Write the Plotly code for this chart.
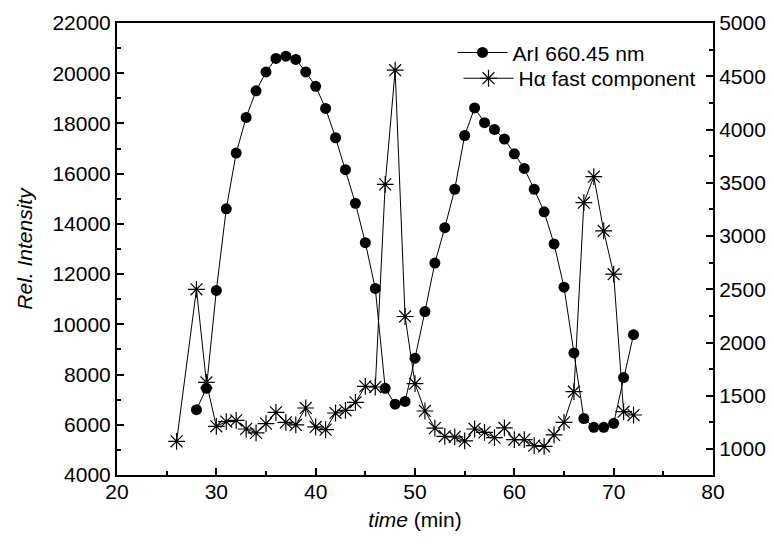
import plotly.graph_objects as go

# --- data ---
ari_time = [28, 29, 30, 31, 32, 33, 34, 35, 36, 37, 38, 39, 40, 41, 42, 43, 44, 45, 46, 47,
            48, 49, 50, 51, 52, 53, 54, 55, 56, 57, 58, 59, 60, 61, 62, 63, 64, 65, 66, 67,
            68, 69, 70, 71, 72]
ari_values = [6600, 7450, 11350, 14600, 16820, 18240, 19300, 20050, 20590, 20680, 20550, 20050,
              19480, 18600, 17430, 16160, 14820, 13250, 11430, 7450, 6820, 6930, 8650, 10510,
              12440, 13850, 15380, 17520, 18620, 18030, 17760, 17380, 16790, 16210, 15380,
              14480, 13200, 11480, 8860, 6250, 5900, 5900, 6060, 7880, 9590]

ha_time = [26, 28, 29, 30, 31, 32, 33, 34, 35, 36, 37, 38, 39, 40, 41, 42, 43, 44, 45, 46,
           47, 48, 49, 50, 51, 52, 53, 54, 55, 56, 57, 58, 59, 60, 61, 62, 63, 64, 65, 66,
           67, 68, 69, 70, 71, 72]
ha_values = [1073, 2500, 1626, 1214, 1258, 1270, 1189, 1152, 1239, 1345, 1251, 1227, 1386,
             1208, 1183, 1339, 1364, 1439, 1589, 1583, 3485, 4557, 2245, 1614, 1358, 1197,
             1120, 1114, 1077, 1189, 1157, 1108, 1199, 1089, 1089, 1033, 1026, 1133, 1251,
             1539, 3313, 3557, 3048, 2642, 1351, 1320]

x_ticks = [20, 30, 40, 50, 60, 70, 80]
left_ticks = [4000, 6000, 8000, 10000, 12000, 14000, 16000, 18000, 20000, 22000]
right_ticks = [1000, 1500, 2000, 2500, 3000, 3500, 4000, 4500, 5000]

FONT = "Liberation Sans, Arial, Helvetica, sans-serif"
FS = 21

fig = go.Figure()
fig.add_trace(go.Scatter(
    x=ari_time, y=ari_values, name="ArI 660.45 nm", mode="lines+markers",
    line=dict(color="black", width=1),
    marker=dict(symbol="circle", size=11, color="black"),
    yaxis="y", legend="legend"))
fig.add_trace(go.Scatter(
    x=ha_time, y=ha_values, name="H\u03b1 fast component", mode="lines+markers",
    line=dict(color="black", width=1),
    marker=dict(symbol="asterisk-open", size=14, color="black",
                line=dict(color="black", width=1.2)),
    yaxis="y2", legend="legend2"))

axis_common = dict(
    showgrid=False, zeroline=False, showline=True, linecolor="black", linewidth=2,
    ticks="inside", ticklen=7, tickwidth=1.5, tickcolor="black", automargin=False,
    tickformat="d",
    tickfont=dict(family=FONT, size=FS, color="black"),
)

legend_common = dict(xanchor="left", yanchor="middle", bgcolor="rgba(0,0,0,0)", borderwidth=0,
                     font=dict(family=FONT, size=FS, color="black"), itemwidth=50)

# The page body has an 8px default margin: figure is 8px smaller and margins shifted.
fig.update_layout(
    width=766, height=538,
    margin=dict(l=109, r=61, t=15, b=71),
    paper_bgcolor="white", plot_bgcolor="white",
    font=dict(family=FONT, color="black"),
    showlegend=True,
    legend=dict(x=0.563, y=0.934, **legend_common),
    legend2=dict(x=0.573, y=0.877, **legend_common),
    xaxis=dict(range=[20, 80], tickvals=x_ticks, mirror=True, ticklabelstandoff=-3,
               minor=dict(dtick=5, ticks="inside", ticklen=4, tickwidth=1.5, tickcolor="black"),
               title=dict(text="<i>time</i> (min)", font=dict(family=FONT, size=FS), standoff=10),
               **axis_common),
    yaxis=dict(range=[4000, 22000], tickvals=left_ticks,
               minor=dict(dtick=1000, ticks="inside", ticklen=4, tickwidth=1.5, tickcolor="black"),
               title=dict(text="<i>Rel. Intensity</i>", font=dict(family=FONT, size=FS), standoff=14),
               **axis_common),
    yaxis2=dict(range=[757, 5000], tickvals=right_ticks, overlaying="y", side="right",
                minor=dict(tick0=750, dtick=250, ticks="inside", ticklen=4, tickwidth=1.5, tickcolor="black"),
                **axis_common),
)

fig.write_html("out.html")
